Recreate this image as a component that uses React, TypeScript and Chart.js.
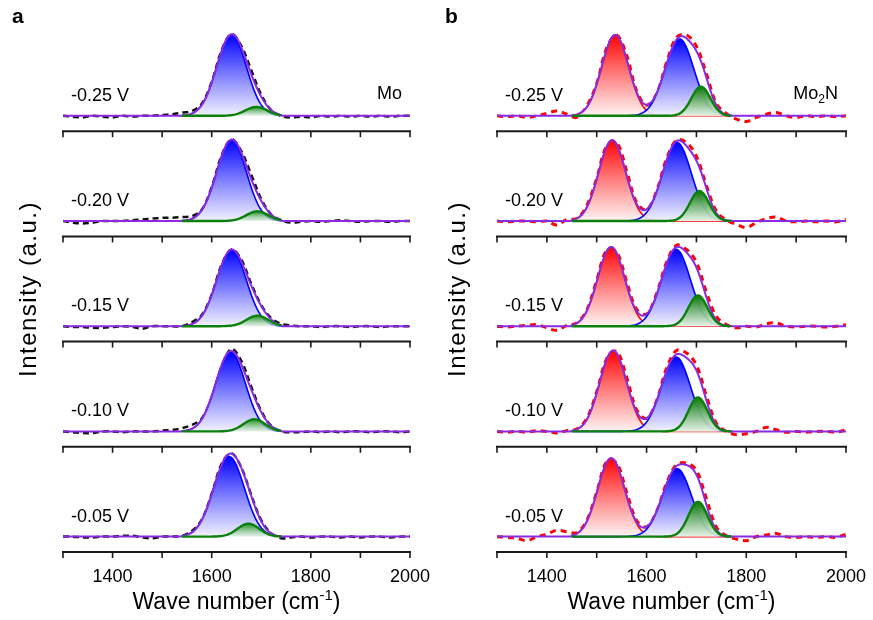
import React, { useEffect, useRef } from 'react';
import { Chart, registerables } from 'chart.js';

Chart.register(...registerables);

const FONT = '"Liberation Sans", Arial, Helvetica, sans-serif';

// ---------- shared axis data ----------
const waveNumbers = [
  1300, 1320, 1340, 1360, 1380, 1400, 1420, 1440, 1460, 1480, 1500, 1520,
  1540, 1560, 1580, 1600, 1620, 1640, 1660, 1680, 1700, 1720, 1740, 1760,
  1780, 1800, 1820, 1840, 1860, 1880, 1900, 1920, 1940, 1960, 1980, 2000,
];
const xTicks = [1300, 1400, 1500, 1600, 1700, 1800, 1900, 2000];
const xTickLabels = [1400, 1600, 1800, 2000];
const voltageLabels = ['-0.25 V', '-0.20 V', '-0.15 V', '-0.10 V', '-0.05 V'];

// ---------- panel a: Mo (measured spectra, black dashed) ----------
const moData025 = [0.0, -0.01, -0.02, 0.0, -0.01, -0.02, 0.0, -0.01, 0.0, 0.0, 0.01, 0.02, 0.04, 0.06, 0.15, 0.42, 0.81, 1.01, 0.86, 0.56, 0.26, 0.07, 0.0, -0.02, -0.01, -0.02, 0.0, -0.01, 0.0, -0.01, 0.0, -0.01, 0.0, -0.01, 0.0, 0.0];
const moData020 = [0.0, -0.02, -0.03, -0.02, 0.0, 0.0, 0.0, 0.01, 0.02, 0.03, 0.04, 0.04, 0.05, 0.06, 0.14, 0.42, 0.81, 1.01, 0.86, 0.57, 0.27, 0.08, 0.01, -0.02, -0.01, 0.0, -0.01, 0.0, 0.01, 0.0, -0.01, 0.0, 0.0, -0.01, 0.0, 0.0];
const moData015 = [0.0, -0.01, -0.01, -0.02, -0.02, -0.01, 0.0, -0.01, -0.03, 0.0, 0.0, 0.0, 0.0, 0.05, 0.14, 0.39, 0.76, 0.95, 0.82, 0.52, 0.26, 0.10, 0.03, 0.01, 0.0, 0.0, -0.01, 0.0, 0.0, -0.01, 0.0, 0.0, -0.01, 0.0, 0.0, 0.0];
const moData010 = [0.0, -0.01, -0.02, -0.02, 0.0, 0.0, -0.01, 0.0, 0.0, 0.0, 0.01, 0.02, 0.04, 0.08, 0.16, 0.42, 0.80, 1.02, 0.87, 0.55, 0.25, 0.07, 0.0, -0.01, -0.01, 0.0, -0.01, 0.0, -0.01, 0.0, 0.0, -0.01, 0.0, 0.0, -0.01, 0.0];
const moData005 = [0.0, 0.0, -0.01, -0.01, 0.0, 0.0, 0.01, 0.01, -0.01, -0.02, 0.0, 0.0, 0.01, 0.07, 0.21, 0.53, 0.90, 1.03, 0.85, 0.51, 0.20, 0.04, -0.02, -0.01, 0.0, -0.01, 0.0, 0.0, -0.01, 0.0, -0.01, 0.0, 0.0, -0.01, 0.0, 0.0];

// fitted Gaussian components (centre, height, sigma)
const moBlueCenter = [1640, 1640, 1640, 1638, 1635];
const moBlueHeight = [1.0, 1.0, 0.94, 0.98, 0.99];
const moBlueSigma = [30, 30, 30, 30, 31];
const moGreenCenter = [1690, 1692, 1692, 1686, 1674];
const moGreenHeight = [0.11, 0.12, 0.13, 0.15, 0.16];
const moGreenSigma = [22, 22, 22, 22, 22];
const moFitRange = [1540, 1740];

// ---------- panel b: Mo2N (measured spectra, red dashed) ----------
const mo2nData025 = [0.0, -0.01, 0.0, -0.02, 0.0, 0.03, 0.06, 0.02, -0.02, 0.12, 0.40, 0.84, 1.0, 0.75, 0.31, 0.13, 0.27, 0.66, 0.97, 1.0, 0.86, 0.52, 0.15, 0.03, -0.04, -0.07, -0.02, 0.02, 0.04, 0.0, -0.02, 0.0, -0.01, 0.0, -0.01, 0.0];
const mo2nData020 = [0.0, -0.01, 0.0, 0.0, -0.01, 0.0, -0.05, 0.02, 0.03, 0.19, 0.53, 0.93, 0.97, 0.62, 0.23, 0.14, 0.37, 0.77, 1.0, 0.97, 0.80, 0.44, 0.12, 0.01, -0.04, -0.08, -0.02, 0.03, 0.05, 0.0, -0.01, 0.0, -0.01, 0.0, -0.01, 0.02];
const mo2nData015 = [0.0, -0.01, 0.0, 0.01, 0.02, -0.02, -0.05, 0.01, 0.04, 0.20, 0.57, 0.94, 0.92, 0.55, 0.21, 0.15, 0.40, 0.79, 1.0, 0.95, 0.79, 0.42, 0.12, 0.02, -0.02, 0.0, -0.01, 0.03, 0.04, 0.0, -0.01, 0.0, 0.0, -0.01, 0.0, 0.02];
const mo2nData010 = [0.0, -0.01, 0.0, -0.01, 0.01, 0.0, -0.02, 0.01, 0.03, 0.16, 0.49, 0.90, 0.99, 0.67, 0.27, 0.16, 0.38, 0.78, 1.0, 0.97, 0.82, 0.44, 0.10, 0.0, -0.04, -0.03, 0.0, 0.05, 0.02, -0.01, 0.0, -0.01, 0.0, 0.0, -0.01, 0.02];
const mo2nData005 = [0.0, -0.01, -0.02, -0.05, 0.0, 0.03, 0.08, 0.06, 0.05, 0.20, 0.55, 0.93, 0.91, 0.55, 0.20, 0.12, 0.31, 0.66, 0.89, 0.91, 0.82, 0.47, 0.12, 0.01, -0.03, -0.05, 0.0, 0.02, 0.04, 0.0, -0.01, 0.0, -0.01, 0.0, -0.01, 0.03];

const mo2nRedCenter = [1537, 1531, 1529, 1533, 1529];
const mo2nRedHeight = [1.0, 1.0, 0.98, 1.0, 0.97];
const mo2nRedSigma = [27, 27, 27, 27, 27];
const mo2nBlueCenter = [1666, 1661, 1659, 1659, 1661];
const mo2nBlueHeight = [0.95, 0.97, 0.95, 0.92, 0.84];
const mo2nBlueSigma = [29, 29, 29, 29, 29];
const mo2nGreenCenter = [1709, 1706, 1703, 1703, 1703];
const mo2nGreenHeight = [0.36, 0.37, 0.38, 0.42, 0.43];
const mo2nGreenSigma = [19, 19, 19, 19, 19];
const mo2nFitRange = [1450, 1770];

// ---------- helpers ----------
type Comp = {
  centers: number[]; heights: number[]; sigmas: number[];
  line: string; width: number; top: string; bottom: string; order: number;
};

function gaussAt(x: number, c: number, h: number, s: number) {
  return h * Math.exp(-((x - c) * (x - c)) / (2 * s * s));
}

function gradFill(yId: string, h: number, top: string, bottom: string) {
  return (ctx: any) => {
    const chart = ctx.chart;
    const ys = chart.scales ? chart.scales[yId] : null;
    if (!chart.chartArea || !ys) return top;
    const g = chart.ctx.createLinearGradient(0, ys.getPixelForValue(h), 0, ys.getPixelForValue(0));
    g.addColorStop(0, top);
    g.addColorStop(1, bottom);
    return g;
  };
}

function buildDatasets(measured: number[][], comps: Comp[], fitRange: number[], dataColor: string, dataWidth: number, dash: number[]) {
  const sets: any[] = [];
  for (let k = 0; k < 5; k++) {
    const yId = 'y' + k;
    sets.push({
      data: waveNumbers.map((x, i) => ({ x, y: measured[k][i] })),
      yAxisID: yId, xAxisID: 'x',
      borderColor: dataColor, borderWidth: dataWidth, borderDash: dash,
      pointRadius: 0, tension: 0.35, fill: false, order: 5,
    });
    const fitXs: number[] = [];
    for (let x = fitRange[0]; x <= fitRange[1]; x += 2) fitXs.push(x);
    for (const c of comps) {
      const cc = c.centers[k], hh = c.heights[k], ss = c.sigmas[k];
      sets.push({
        data: fitXs.map((x) => ({ x, y: gaussAt(x, cc, hh, ss) })),
        yAxisID: yId, xAxisID: 'x',
        borderColor: c.line, borderWidth: c.width, pointRadius: 0, tension: 0,
        fill: { value: 0 },
        backgroundColor: gradFill(yId, hh, c.top, c.bottom),
        order: c.order,
      });
    }
    const envXs: number[] = [];
    for (let x = 1300; x <= 2000; x += 2) envXs.push(x);
    sets.push({
      data: envXs.map((x) => ({
        x,
        y: x >= fitRange[0] && x <= fitRange[1]
          ? comps.reduce((s, c) => s + gaussAt(x, c.centers[k], c.heights[k], c.sigmas[k]), 0)
          : 0,
      })),
      yAxisID: yId, xAxisID: 'x',
      borderColor: '#8a2be2', borderWidth: 2, pointRadius: 0, tension: 0, fill: false, order: 2,
    });
  }
  return sets;
}

type PanelCfg = {
  letter: string; material: string; sub?: string; suffix?: string;
  datasets: any[]; padLeft: number; padRight: number; yTitleX: number; letterX: number;
};

function decorPlugin(p: PanelCfg) {
  return {
    id: 'decor' + p.letter,
    afterDraw(chart: any) {
      const { ctx, chartArea: a, scales } = chart;
      const xs = scales.x;
      ctx.save();
      for (let k = 0; k < 5; k++) {
        const ys = scales['y' + k];
        const yb = ys.bottom;
        ctx.strokeStyle = '#1a1a1a';
        ctx.lineWidth = 2;
        ctx.beginPath();
        ctx.moveTo(a.left - 1, yb);
        ctx.lineTo(a.right + 1, yb);
        ctx.stroke();
        ctx.lineWidth = 1.6;
        for (const t of xTicks) {
          const px = xs.getPixelForValue(t);
          ctx.beginPath();
          ctx.moveTo(px, yb);
          ctx.lineTo(px, yb + 6);
          ctx.stroke();
        }
        ctx.fillStyle = '#000';
        ctx.font = `18px ${FONT}`;
        ctx.textAlign = 'left';
        ctx.textBaseline = 'middle';
        ctx.fillText(voltageLabels[k], a.left + 8, ys.getPixelForValue(0) - 20);
      }
      // material label
      const y0 = scales.y0.getPixelForValue(0) - 22;
      ctx.font = `18px ${FONT}`;
      ctx.textBaseline = 'middle';
      ctx.textAlign = 'left';
      const wMain = ctx.measureText(p.material).width;
      let wSub = 0, wSuf = 0;
      if (p.sub) { ctx.font = `12px ${FONT}`; wSub = ctx.measureText(p.sub).width; }
      if (p.suffix) { ctx.font = `18px ${FONT}`; wSuf = ctx.measureText(p.suffix).width; }
      let mx = a.right - 8 - (wMain + wSub + wSuf);
      ctx.font = `18px ${FONT}`;
      ctx.fillText(p.material, mx, y0);
      mx += wMain;
      if (p.sub) { ctx.font = `12px ${FONT}`; ctx.fillText(p.sub, mx, y0 + 6); mx += wSub; }
      if (p.suffix) { ctx.font = `18px ${FONT}`; ctx.fillText(p.suffix, mx, y0); }
      // x title with superscript
      const cx = (a.left + a.right) / 2;
      const ty = 603;
      const t1 = 'Wave number (cm', t2 = '-1', t3 = ')';
      ctx.font = `23px ${FONT}`;
      const w1 = ctx.measureText(t1).width, w3 = ctx.measureText(t3).width;
      ctx.font = `15px ${FONT}`;
      const w2 = ctx.measureText(t2).width;
      let tx = cx - (w1 + w2 + w3) / 2;
      ctx.font = `23px ${FONT}`;
      ctx.fillText(t1, tx, ty);
      tx += w1;
      ctx.font = `15px ${FONT}`;
      ctx.fillText(t2, tx, ty - 7);
      tx += w2;
      ctx.font = `23px ${FONT}`;
      ctx.fillText(t3, tx, ty);
      // y title
      ctx.save();
      ctx.translate(p.yTitleX, (a.top + a.bottom) / 2);
      ctx.rotate(-Math.PI / 2);
      ctx.textAlign = 'center';
      ctx.font = `24px ${FONT}`;
      try { (ctx as any).letterSpacing = '1.5px'; } catch (e) { /* ignore */ }
      ctx.fillText('Intensity (a.u.)', 0, 0);
      try { (ctx as any).letterSpacing = '0px'; } catch (e) { /* ignore */ }
      ctx.restore();
      // panel letter
      ctx.font = `bold 21px ${FONT}`;
      ctx.textAlign = 'left';
      ctx.fillText(p.letter, p.letterX, 17);
      ctx.restore();
    },
  };
}

function buildConfig(p: PanelCfg): any {
  const scales: any = {
    x: {
      type: 'linear', position: 'bottom', min: 1300, max: 2000,
      grid: { display: false }, border: { display: false },
      ticks: {
        stepSize: 100, autoSkip: false, maxRotation: 0, minRotation: 0,
        color: '#000', padding: 6, font: { family: FONT, size: 18 },
        callback: (v: any) => (xTickLabels.includes(Number(v)) ? String(v) : ''),
      },
      afterFit: (s: any) => { s.height = 68; },
    },
  };
  for (let k = 4; k >= 0; k--) {
    scales['y' + k] = {
      type: 'linear', position: 'left', stack: 'sub', stackWeight: 1,
      min: -0.19, max: 1.11, display: true,
      ticks: { display: false }, grid: { display: false, drawTicks: false }, border: { display: false },
    };
  }
  return {
    type: 'line',
    data: { datasets: p.datasets },
    options: {
      responsive: false, maintainAspectRatio: false, animation: false,
      layout: { padding: { left: p.padLeft, right: p.padRight, top: 26, bottom: 0 } },
      plugins: { legend: { display: false }, tooltip: { enabled: false } },
      events: [],
      scales,
    },
    plugins: [decorPlugin(p)],
  };
}

const moComps: Comp[] = [
  { centers: moBlueCenter, heights: moBlueHeight, sigmas: moBlueSigma, line: '#0000ff', width: 1.6, top: 'rgba(0,0,255,1)', bottom: 'rgba(240,240,255,0.9)', order: 3 },
  { centers: moGreenCenter, heights: moGreenHeight, sigmas: moGreenSigma, line: '#0b800b', width: 2.4, top: 'rgba(20,140,20,0.95)', bottom: 'rgba(220,240,220,0.6)', order: 1 },
];
const mo2nComps: Comp[] = [
  { centers: mo2nRedCenter, heights: mo2nRedHeight, sigmas: mo2nRedSigma, line: '#ff0000', width: 1.6, top: 'rgba(255,0,0,1)', bottom: 'rgba(255,242,242,0.9)', order: 4 },
  { centers: mo2nBlueCenter, heights: mo2nBlueHeight, sigmas: mo2nBlueSigma, line: '#0000ff', width: 1.6, top: 'rgba(0,0,255,1)', bottom: 'rgba(240,240,255,0.9)', order: 3 },
  { centers: mo2nGreenCenter, heights: mo2nGreenHeight, sigmas: mo2nGreenSigma, line: '#0b800b', width: 2.4, top: 'rgba(10,120,10,1)', bottom: 'rgba(228,243,228,0.9)', order: 1 },
];

const panelA: PanelCfg = {
  letter: 'a', material: 'Mo',
  datasets: buildDatasets([moData025, moData020, moData015, moData010, moData005], moComps, moFitRange, '#111111', 2.5, [6, 4]),
  padLeft: 63, padRight: 23, yTitleX: 29, letterX: 12,
};
const panelB: PanelCfg = {
  letter: 'b', material: 'Mo', sub: '2', suffix: 'N',
  datasets: buildDatasets([mo2nData025, mo2nData020, mo2nData015, mo2nData010, mo2nData005], mo2nComps, mo2nFitRange, '#ff0000', 3, [6, 5]),
  padLeft: 61, padRight: 27, yTitleX: 22, letterX: 9,
};

function Panel({ cfg, left, width }: { cfg: PanelCfg; left: number; width: number }) {
  const ref = useRef<HTMLCanvasElement>(null);
  useEffect(() => {
    const chart = new Chart(ref.current as HTMLCanvasElement, buildConfig(cfg));
    return () => chart.destroy();
  }, [cfg]);
  return (
    <canvas
      ref={ref}
      width={width}
      height={620}
      style={{ position: 'absolute', left, top: 0, width, height: 620 }}
    />
  );
}

export default function App() {
  return (
    <div style={{ position: 'absolute', left: 0, top: 0, width: 873, height: 620, background: '#fff', overflow: 'hidden' }}>
      <Panel cfg={panelA} left={0} width={436} />
      <Panel cfg={panelB} left={436} width={437} />
    </div>
  );
}
